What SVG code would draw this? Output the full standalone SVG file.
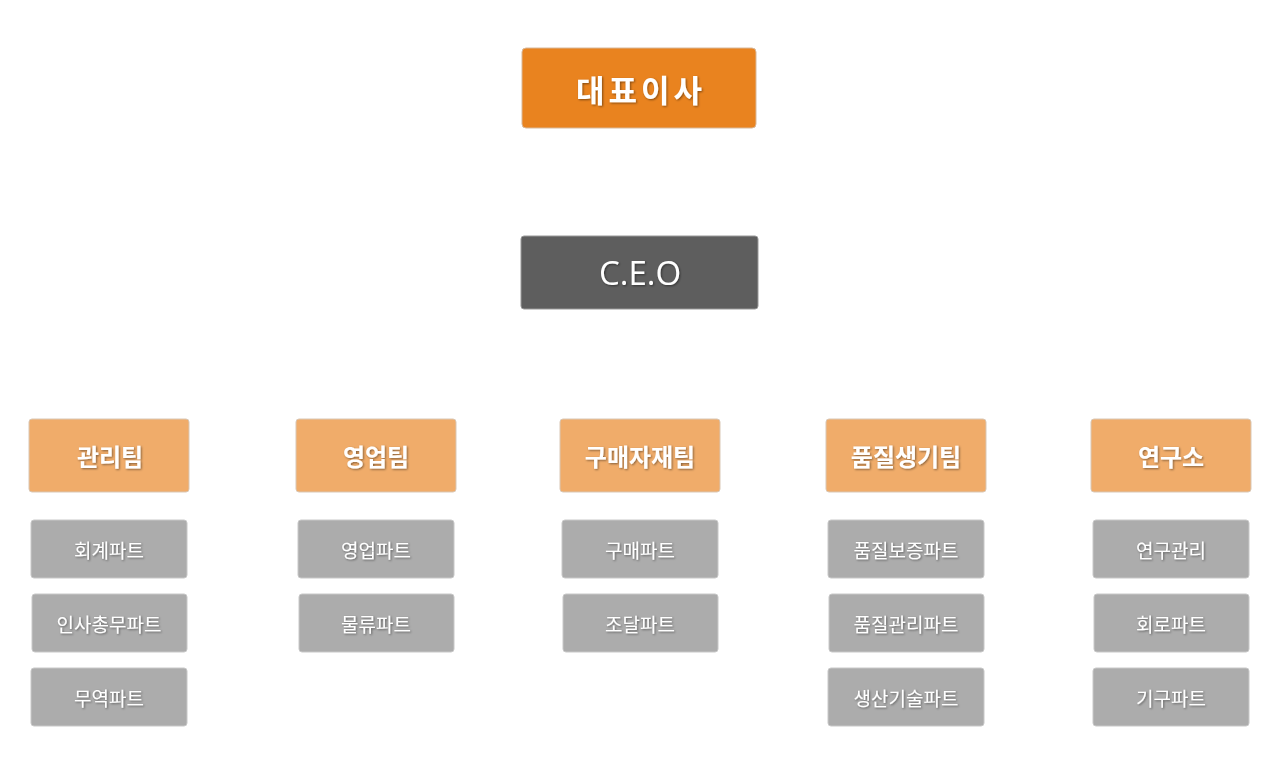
<svg xmlns="http://www.w3.org/2000/svg" width="1280" height="775" viewBox="0 0 1280 775">
<defs>
<filter id="ts" x="-20%" y="-20%" width="140%" height="140%"><feDropShadow dx="1" dy="1" stdDeviation="1.2" flood-color="#000" flood-opacity="0.45"/></filter>
<filter id="ls" x="-50%" y="-50%" width="200%" height="200%"><feDropShadow dx="2" dy="2" stdDeviation="1.5" flood-color="#000" flood-opacity="0.15"/></filter>
</defs>
<style>
text{font-family:"Noto Sans CJK KR","Noto Sans",sans-serif;fill:#fff;text-anchor:middle;dominant-baseline:central;filter:url(#ts)}
.top{font-size:31px;font-weight:bold;letter-spacing:4px}
.ceo{font-size:33px;font-family:"Open Sans","Noto Sans",sans-serif;font-weight:500}
.dept rect{fill:#f0ac6a;stroke:#d9c7b5;stroke-width:1}
.dept text{font-size:24px;font-weight:bold}
.sub rect{fill:#acacac;stroke:#c8c8c8;stroke-width:1}
.sub text{font-size:19px}
#connectors line{stroke:#a87d58;stroke-width:2.5;filter:url(#ls)}
</style>
<g id="connectors">
<line x1="640" y1="128" x2="640" y2="236"/>
<line x1="640" y1="309" x2="640" y2="419"/>
<line x1="109" y1="356" x2="1172" y2="356"/>
<line x1="109" y1="356" x2="109" y2="668"/>
<line x1="376" y1="356" x2="376" y2="594"/>
<line x1="906" y1="356" x2="906" y2="668"/>
<line x1="1171" y1="356" x2="1171" y2="668"/>
<line x1="640" y1="492" x2="640" y2="594"/>
</g>
<g id="n-top"><rect x="522" y="48" width="234" height="80" rx="4" fill="#e9831f" stroke="#d8b89a"/><text class="top" x="641" y="88">대표이사</text></g>
<g id="n-ceo"><rect x="521" y="236" width="237" height="73" rx="3" fill="#5e5e5e" stroke="#999"/><text class="ceo" x="640" y="272">C.E.O</text></g>
<g id="n-d1" class="dept"><rect x="29" y="419" width="160" height="73" rx="3"/><text x="110" y="455">관리팀</text></g>
<g id="n-d2" class="dept"><rect x="296" y="419" width="160" height="73" rx="3"/><text x="376" y="455">영업팀</text></g>
<g id="n-d3" class="dept"><rect x="560" y="419" width="160" height="73" rx="3"/><text x="640" y="455">구매자재팀</text></g>
<g id="n-d4" class="dept"><rect x="826" y="419" width="160" height="73" rx="3"/><text x="906" y="455">품질생기팀</text></g>
<g id="n-d5" class="dept"><rect x="1091" y="419" width="160" height="73" rx="3"/><text x="1171" y="455">연구소</text></g>
<g id="n-s11" class="sub"><rect x="31" y="520" width="156" height="58" rx="3"/><text x="109" y="549">회계파트</text></g>
<g id="n-s12" class="sub"><rect x="32" y="594" width="155" height="58" rx="3"/><text x="109" y="623">인사총무파트</text></g>
<g id="n-s13" class="sub"><rect x="31" y="668" width="156" height="58" rx="3"/><text x="109" y="697">무역파트</text></g>
<g id="n-s21" class="sub"><rect x="298" y="520" width="156" height="58" rx="3"/><text x="376" y="549">영업파트</text></g>
<g id="n-s22" class="sub"><rect x="299" y="594" width="155" height="58" rx="3"/><text x="376" y="623">물류파트</text></g>
<g id="n-s31" class="sub"><rect x="562" y="520" width="156" height="58" rx="3"/><text x="640" y="549">구매파트</text></g>
<g id="n-s32" class="sub"><rect x="563" y="594" width="155" height="58" rx="3"/><text x="640" y="623">조달파트</text></g>
<g id="n-s41" class="sub"><rect x="828" y="520" width="156" height="58" rx="3"/><text x="906" y="549">품질보증파트</text></g>
<g id="n-s42" class="sub"><rect x="829" y="594" width="155" height="58" rx="3"/><text x="906" y="623">품질관리파트</text></g>
<g id="n-s43" class="sub"><rect x="828" y="668" width="156" height="58" rx="3"/><text x="906" y="697">생산기술파트</text></g>
<g id="n-s51" class="sub"><rect x="1093" y="520" width="156" height="58" rx="3"/><text x="1171" y="549">연구관리</text></g>
<g id="n-s52" class="sub"><rect x="1094" y="594" width="155" height="58" rx="3"/><text x="1171" y="623">회로파트</text></g>
<g id="n-s53" class="sub"><rect x="1093" y="668" width="156" height="58" rx="3"/><text x="1171" y="697">기구파트</text></g>
</svg>
